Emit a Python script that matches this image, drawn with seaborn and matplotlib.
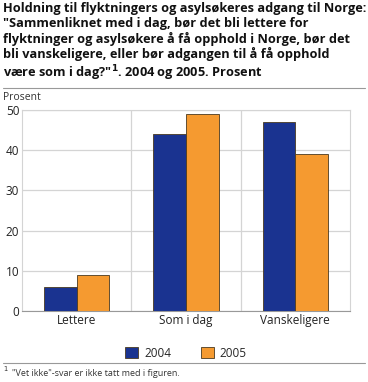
import matplotlib.pyplot as plt
import seaborn as sns
import pandas as pd

categories = ['Lettere', 'Som i dag', 'Vanskeligere']
values_2004 = [6, 44, 47]
values_2005 = [9, 49, 39]
years = ['2004', '2005']

data = pd.DataFrame({
    'Kategori': categories * 2,
    'Prosent': values_2004 + values_2005,
    'År': [years[0]] * 3 + [years[1]] * 3,
})

sns.set_style('white')
plt.rcParams['font.family'] = ['Open Sans', 'DejaVu Sans']

fig = plt.figure(figsize=(3.68, 3.82), dpi=100)
ax = fig.add_axes([22 / 368, 1 - 311 / 382, (350 - 22) / 368, (311 - 110) / 382])

palette = {'2004': '#1a3390', '2005': '#f59a30'}
sns.barplot(data=data, x='Kategori', y='Prosent', hue='År', palette=palette,
            width=0.6, ax=ax, saturation=1, edgecolor='#4a3a20', linewidth=0.6,
            zorder=3)

ax.set_ylim(0, 50)
ax.set_xlim(-0.5, 2.5)
ax.set_yticks(range(0, 51, 10))
ax.yaxis.grid(True, color='#d4d4d4', linewidth=0.9, zorder=0)
for xv in [0.5, 1.5]:
    ax.axvline(xv, color='#d4d4d4', linewidth=0.9, zorder=0)
for s in ['top', 'right']:
    ax.spines[s].set_color('#d4d4d4')
ax.spines['left'].set_color('#d4d4d4')
ax.spines['bottom'].set_color('#999999')
ax.set_xlabel('')
ax.set_ylabel('')
ax.tick_params(axis='both', labelsize=8.5, colors='#222222', length=0, pad=2)

handles, labels = ax.get_legend_handles_labels()
ax.legend(handles, labels, loc='center', bbox_to_anchor=(0.5, -0.21),
          ncol=2, frameon=False, fontsize=8.5, handlelength=1.1, handleheight=1.1,
          columnspacing=2.5, handletextpad=0.5)

title = ('Holdning til flyktningers og asylsøkeres adgang til Norge:\n'
         '"Sammenliknet med i dag, bør det bli lettere for\n'
         'flyktninger og asylsøkere å få opphold i Norge, bør det\n'
         'bli vanskeligere, eller bør adgangen til å få opphold\n'
         'være som i dag?"$^{\\mathbf{1}}$. 2004 og 2005. Prosent')
fig.text(3 / 368, 1 - 2 / 382, title, ha='left', va='top', fontsize=9.2,
         fontweight='bold', linespacing=1.17, color='#111111')
fig.add_artist(plt.Line2D([3 / 368, 365 / 368], [1 - 88 / 382, 1 - 88 / 382],
                          color='#999999', linewidth=0.8))
fig.text(3 / 368, 1 - 97 / 382, 'Prosent', ha='left', va='center', fontsize=7.5,
         color='#333333')
fig.add_artist(plt.Line2D([3 / 368, 365 / 368], [1 - 363 / 382, 1 - 363 / 382],
                          color='#999999', linewidth=0.8))
fig.text(3 / 368, 1 - 372 / 382, '$^1$', ha='left', va='center', fontsize=7,
         color='#333333')
fig.text(12 / 368, 1 - 374 / 382, '"Vet ikke"-svar er ikke tatt med i figuren.',
         ha='left', va='center', fontsize=6.5, color='#333333')

fig.savefig('out.png', dpi=100)
